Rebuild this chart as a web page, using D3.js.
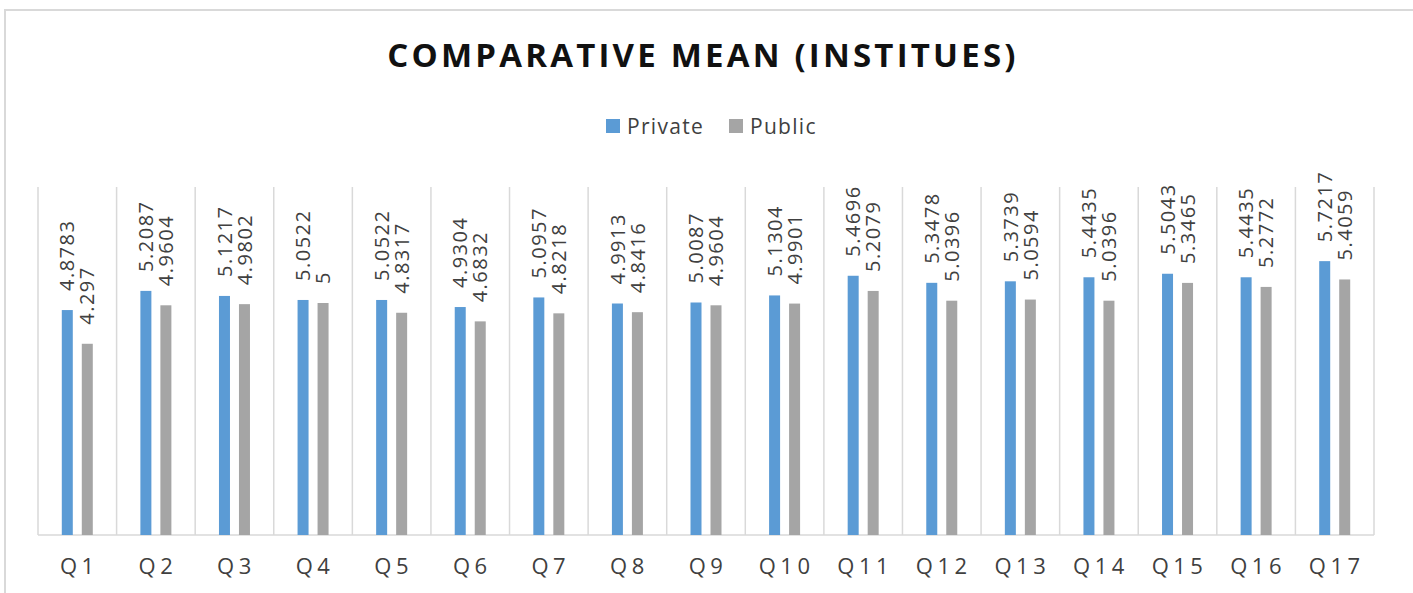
<!DOCTYPE html>
<html>
<head>
<meta charset="utf-8">
<script src="https://cdn.jsdelivr.net/npm/d3@7"></script>
<style>
    body { margin: 0; background: #fff; }
    text { font-family: "Open Sans", sans-serif; }
</style>
</head>
<body>
<div id="chart"></div>
<script>
var categories = ["Q1", "Q2", "Q3", "Q4", "Q5", "Q6", "Q7", "Q8", "Q9", "Q10", "Q11", "Q12", "Q13", "Q14", "Q15", "Q16", "Q17"];
var seriesNames = ["Private", "Public"];
var privateValues = [4.8783, 5.2087, 5.1217, 5.0522, 5.0522, 4.9304, 5.0957, 4.9913, 5.0087, 5.1304, 5.4696, 5.3478, 5.3739, 5.4435, 5.5043, 5.4435, 5.7217];
var publicValues = [4.297, 4.9604, 4.9802, 5, 4.8317, 4.6832, 4.8218, 4.8416, 4.9604, 4.9901, 5.2079, 5.0396, 5.0594, 5.0396, 5.3465, 5.2772, 5.4059];
var yDomain = [1, 7];

var svgWidth = 1413;
var svgHeight = 593;
var plotLeft = 38;
var plotRight = 1374;
var plotTop = 187;
var plotBottom = 535;
var colors = ["#5b9bd5", "#a5a5a5"];

var svg = d3.select("#chart")
    .append("svg")
    .attr("width", svgWidth)
    .attr("height", svgHeight);

// chart border
svg.append("rect")
    .attr("x", 5)
    .attr("y", 10)
    .attr("width", 1420)
    .attr("height", 600)
    .attr("fill", "#fff")
    .attr("stroke", "#d9d9d9")
    .attr("stroke-width", 2);

// title
svg.append("text")
    .attr("x", 703)
    .attr("y", 67)
    .attr("text-anchor", "middle")
    .attr("font-size", "33px")
    .attr("font-weight", "bold")
    .attr("letter-spacing", "3.2px")
    .attr("fill", "#111")
    .text("COMPARATIVE MEAN (INSTITUES)");

// legend
var legendX = [606, 729];
var legend = svg.selectAll(".legend")
    .data(seriesNames)
    .enter()
    .append("g")
    .attr("class", "legend")
    .attr("transform", function (d, i) { return "translate(" + legendX[i] + ",119)"; });

legend.append("rect")
    .attr("width", 14)
    .attr("height", 14)
    .attr("fill", function (d, i) { return colors[i]; });

legend.append("text")
    .attr("x", 21)
    .attr("y", 15)
    .attr("font-size", "21px")
    .attr("letter-spacing", "1.3px")
    .attr("fill", "#404040")
    .text(function (d) { return d; });

// scales
var x0 = d3.scaleBand()
    .domain(categories)
    .range([plotLeft, plotRight])
    .padding(0);

var bw = x0.bandwidth();
var x1 = d3.scaleBand()
    .domain(seriesNames)
    .range([bw / 2 - 20, bw / 2 + 20])
    .paddingInner(0.45)
    .paddingOuter(0.225);

var y = d3.scaleLinear()
    .domain(yDomain)
    .range([plotBottom, plotTop]);

// vertical separators between categories
var edges = categories.map(function (c) { return x0(c); }).concat([plotRight]);
svg.selectAll(".sep")
    .data(edges)
    .enter()
    .append("line")
    .attr("class", "sep")
    .attr("x1", function (d) { return d; })
    .attr("x2", function (d) { return d; })
    .attr("y1", plotTop)
    .attr("y2", plotBottom)
    .attr("stroke", "#d9d9d9")
    .attr("stroke-width", 1.5);

svg.append("line")
    .attr("x1", plotLeft)
    .attr("x2", plotRight)
    .attr("y1", plotBottom)
    .attr("y2", plotBottom)
    .attr("stroke", "#d9d9d9")
    .attr("stroke-width", 1.5);

// build rows
var rows = categories.map(function (c, i) {
    return { cat: c, values: [privateValues[i], publicValues[i]] };
});

var groups = svg.selectAll(".group")
    .data(rows)
    .enter()
    .append("g")
    .attr("class", "group")
    .attr("transform", function (d) { return "translate(" + x0(d.cat) + ",0)"; });

var cells = groups.selectAll(".cell")
    .data(function (d) {
        return d.values.map(function (v, i) { return { s: seriesNames[i], v: v, i: i }; });
    })
    .enter();

cells.append("rect")
    .attr("x", function (d) { return x1(d.s); })
    .attr("width", x1.bandwidth())
    .attr("y", function (d) { return y(d.v); })
    .attr("height", function (d) { return plotBottom - y(d.v); })
    .attr("fill", function (d) { return colors[d.i]; });

// rotated data labels
cells.append("text")
    .attr("transform", function (d) {
        var cx = x1(d.s) + x1.bandwidth() / 2;
        return "translate(" + cx + "," + (y(d.v) - 19) + ") rotate(-90)";
    })
    .attr("dy", "0.36em")
    .attr("font-size", "20px")
    .attr("letter-spacing", "1.5px")
    .attr("fill", "#404040")
    .text(function (d) { return String(d.v); });

// category labels
svg.selectAll(".cat")
    .data(categories)
    .enter()
    .append("text")
    .attr("class", "cat")
    .attr("x", function (d) { return x0(d) + bw / 2 + 2; })
    .attr("y", 574)
    .attr("text-anchor", "middle")
    .attr("font-size", "22px")
    .attr("letter-spacing", "4.5px")
    .attr("fill", "#404040")
    .text(function (d) { return d; });
</script>
</body>
</html>
